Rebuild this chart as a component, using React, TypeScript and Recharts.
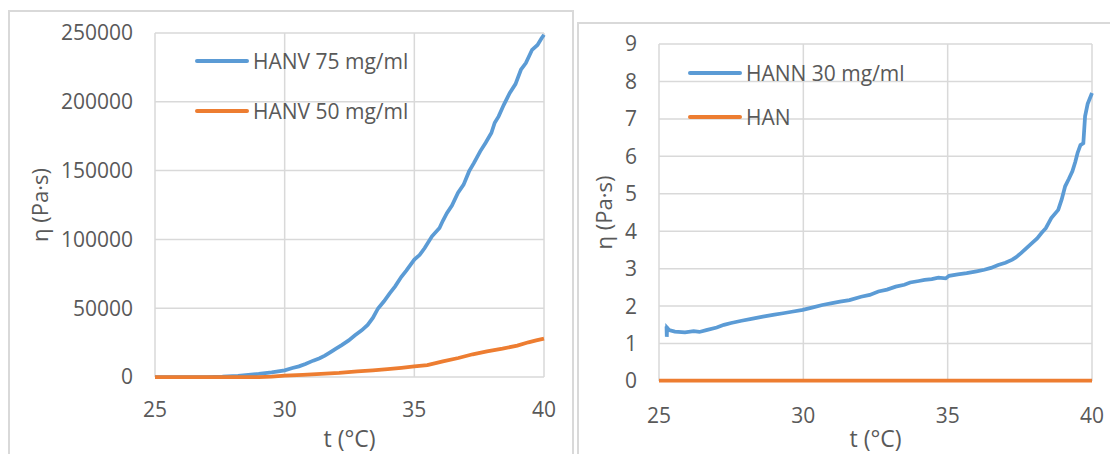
import React from "react";
import { LineChart, Line, XAxis, YAxis, CartesianGrid, Legend, Label } from "recharts";

// left panel: HANV samples
const hanv75T = [25, 26, 27, 27.6, 28.2, 28.6, 29.0, 29.5, 30.0, 30.3, 30.55, 30.8, 31.1, 31.35, 31.55, 31.8, 31.98, 32.2, 32.47, 32.7, 32.97, 33.2, 33.4, 33.6, 33.83, 34.05, 34.26, 34.5, 34.69, 35.0, 35.2, 35.4, 35.68, 35.97, 36.1, 36.26, 36.45, 36.68, 36.9, 37.11, 37.3, 37.54, 37.75, 37.97, 38.1, 38.25, 38.45, 38.68, 38.9, 39.11, 39.3, 39.54, 39.75, 39.9, 40.0];
const hanv75Eta = [0, 0, 0, 300, 900, 1500, 2200, 3300, 4800, 6500, 7750, 9500, 11900, 13600, 15500, 18500, 20600, 23200, 26600, 30200, 33900, 37800, 42900, 49800, 55000, 60800, 65900, 72800, 77300, 85300, 88600, 93700, 102200, 108300, 113500, 119200, 124600, 133700, 139800, 149400, 155600, 164000, 170200, 177300, 184800, 189400, 197800, 206400, 212900, 223300, 228100, 237800, 241300, 246000, 248700];

const hanv50T = [25, 26, 27, 28, 29, 29.5, 30.0, 30.7, 31.4, 32.1, 32.8, 33.4, 33.97, 34.5, 35.0, 35.5, 36.1, 36.7, 37.25, 37.8, 38.4, 38.97, 39.4, 39.7, 40.0];
const hanv50Eta = [0, 0, 0, 0, 0, 200, 970, 1500, 2200, 3000, 4100, 4900, 5800, 6700, 7750, 8700, 11400, 13800, 16500, 18600, 20600, 22800, 25200, 26600, 27900];

// right panel: HANN / HAN samples
const hann30T = [25.26, 25.27, 25.28, 25.35, 25.55, 25.9, 26.2, 26.4, 26.64, 27.0, 27.25, 27.5, 27.86, 28.2, 28.6, 29.0, 29.3, 29.6, 29.98, 30.3, 30.66, 31.0, 31.27, 31.6, 32.0, 32.3, 32.6, 32.9, 33.2, 33.5, 33.7, 34.0, 34.2, 34.45, 34.68, 34.93, 35.05, 35.35, 35.66, 36.0, 36.27, 36.5, 36.75, 37.0, 37.24, 37.36, 37.55, 37.73, 37.9, 38.1, 38.25, 38.4, 38.59, 38.83, 38.95, 39.07, 39.2, 39.32, 39.42, 39.5, 39.6, 39.7, 39.76, 39.85, 40.0];
const hann30Eta = [1.46, 1.18, 1.42, 1.36, 1.32, 1.3, 1.33, 1.31, 1.36, 1.43, 1.5, 1.55, 1.61, 1.66, 1.72, 1.77, 1.81, 1.85, 1.9, 1.96, 2.03, 2.08, 2.12, 2.16, 2.25, 2.3, 2.39, 2.44, 2.52, 2.57, 2.63, 2.67, 2.7, 2.72, 2.76, 2.74, 2.81, 2.85, 2.88, 2.93, 2.97, 3.02, 3.1, 3.16, 3.24, 3.3, 3.42, 3.55, 3.67, 3.81, 3.95, 4.08, 4.35, 4.57, 4.85, 5.2, 5.4, 5.6, 5.85, 6.09, 6.3, 6.35, 7.07, 7.4, 7.69];

const hanT = [25, 27.5, 30, 32.5, 35, 37.5, 40];
const hanEta = [0.01, 0.01, 0.01, 0.01, 0.01, 0.01, 0.01];

const leftNames = ["HANV 75 mg/ml", "HANV 50 mg/ml"];
const rightNames = ["HANN 30 mg/ml", "HAN"];

const xTicks = [25, 30, 35, 40];
const leftYTicks = [0, 50000, 100000, 150000, 200000, 250000];
const rightYTicks = [0, 1, 2, 3, 4, 5, 6, 7, 8, 9];

const toRows = (ts: number[], vs: number[]) => ts.map((t, i) => ({ t, eta: vs[i] }));

const FONT = "'Open Sans', sans-serif";
const TEXT = "#595959";
const GRID = "#d9d9d9";
const BLUE = "#5B9BD5";
const ORANGE = "#ED7D31";
const LW = 3.75;

const tickStyle = { fill: TEXT, fontSize: 21, fontFamily: FONT };

function legendContent(rowH: number, order: string[]) {
  return (props: any) => {
    const items = [...(props.payload || [])].sort((a: any, b: any) => order.indexOf(a.value) - order.indexOf(b.value));
    return (
      <div>
        {items.map((e: any) => (
          <div key={e.value} style={{ display: "flex", alignItems: "center", height: rowH }}>
            <svg width={54} height={8}>
              <line x1={2} y1={4} x2={52} y2={4} stroke={e.color} strokeWidth={4} strokeLinecap="round" />
            </svg>
            <span style={{ marginLeft: 4, color: TEXT, fontSize: 21, fontFamily: FONT, whiteSpace: "nowrap" }}>{e.value}</span>
          </div>
        ))}
      </div>
    );
  };
}

function yTitle(baseX: number) {
  return (props: any) => {
    const vb = props.viewBox;
    const cy = vb.y + vb.height / 2;
    return (
      <text
        x={baseX}
        y={cy}
        transform={`rotate(-90, ${baseX}, ${cy})`}
        textAnchor="middle"
        fill={TEXT}
        fontSize={22}
        fontFamily={FONT}
      >
        η (Pa·s)
      </text>
    );
  };
}

export default function App() {
  return (
    <div style={{ position: "absolute", left: 0, top: 0, width: 1110, height: 454, overflow: "hidden", background: "#fff" }}>
      <div style={{ position: "absolute", left: 8, top: 10, width: 562, height: 470, border: `2px solid ${GRID}` }} />
      <div style={{ position: "absolute", left: 577, top: 22, width: 600, height: 470, border: `2px solid ${GRID}` }} />

      <div style={{ position: "absolute", left: 0, top: 0 }}>
        <LineChart width={574} height={454} margin={{ top: 33, right: 30, bottom: 0, left: 0 }} style={{ fontFamily: FONT }}>
          <CartesianGrid stroke={GRID} strokeWidth={1.5} />
          <XAxis
            type="number"
            dataKey="t"
            domain={[25, 40]}
            ticks={xTicks}
            allowDuplicatedCategory={false}
            axisLine={false}
            tickLine={false}
            tickSize={0}
            tickMargin={25}
            height={77}
            tick={tickStyle}
          >
            <Label value="t (°C)" position="insideBottom" offset={7} fill={TEXT} fontSize={23} fontFamily={FONT} />
          </XAxis>
          <YAxis
            type="number"
            domain={[0, 250000]}
            ticks={leftYTicks}
            width={155}
            axisLine={false}
            tickLine={false}
            tickSize={0}
            tickMargin={22}
            tick={tickStyle}
          >
            <Label content={yTitle(48)} />
          </YAxis>
          <Legend
            layout="vertical"
            align="center"
            verticalAlign="middle"
            content={legendContent(50, leftNames)}
            wrapperStyle={{ left: 195, top: 36, width: 320 }}
          />
          <Line data={toRows(hanv75T, hanv75Eta)} dataKey="eta" name={leftNames[0]} type="linear" stroke={BLUE} strokeWidth={LW} dot={false} isAnimationActive={false} />
          <Line data={toRows(hanv50T, hanv50Eta)} dataKey="eta" name={leftNames[1]} type="linear" stroke={ORANGE} strokeWidth={LW} dot={false} isAnimationActive={false} />
        </LineChart>
      </div>

      <div style={{ position: "absolute", left: 577, top: 0 }}>
        <LineChart width={533} height={454} margin={{ top: 44, right: 18, bottom: 0, left: 0 }} style={{ fontFamily: FONT }}>
          <CartesianGrid stroke={GRID} strokeWidth={1.5} />
          <XAxis
            type="number"
            dataKey="t"
            domain={[25, 40]}
            ticks={xTicks}
            allowDuplicatedCategory={false}
            axisLine={false}
            tickLine={false}
            tickSize={0}
            tickMargin={27}
            height={73}
            tick={tickStyle}
          >
            <Label value="t (°C)" position="insideBottom" offset={7} fill={TEXT} fontSize={23} fontFamily={FONT} />
          </XAxis>
          <YAxis
            type="number"
            domain={[0, 9]}
            ticks={rightYTicks}
            width={82}
            axisLine={false}
            tickLine={false}
            tickSize={0}
            tickMargin={22}
            tick={tickStyle}
          >
            <Label content={yTitle(35)} />
          </YAxis>
          <Legend
            layout="vertical"
            align="center"
            verticalAlign="middle"
            content={legendContent(44, rightNames)}
            wrapperStyle={{ left: 111, top: 51, width: 320 }}
          />
          <Line data={toRows(hann30T, hann30Eta)} dataKey="eta" name={rightNames[0]} type="linear" stroke={BLUE} strokeWidth={LW} dot={false} isAnimationActive={false} />
          <Line data={toRows(hanT, hanEta)} dataKey="eta" name={rightNames[1]} type="linear" stroke={ORANGE} strokeWidth={LW} dot={false} isAnimationActive={false} />
        </LineChart>
      </div>
    </div>
  );
}
